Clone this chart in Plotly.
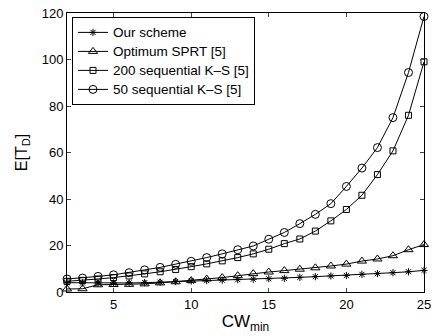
import plotly.graph_objects as go

cw = list(range(2, 26))
our_scheme = [4.0, 3.9, 3.8, 3.8, 3.9, 4.0, 4.2, 4.5, 4.7, 4.9, 5.1, 5.3, 5.5, 5.7, 5.9, 6.3, 6.6, 6.9, 7.1, 7.6, 7.9, 8.3, 8.7, 9.3]
optimum_sprt = [1.3, 1.4, 3.1, 3.2, 3.3, 3.5, 3.9, 4.4, 4.9, 5.6, 6.2, 7.0, 7.9, 8.6, 9.2, 9.8, 10.4, 11.2, 12.0, 13.3, 14.2, 15.6, 18.2, 20.4]
ks200 = [4.6, 5.0, 5.6, 6.2, 6.9, 7.8, 8.7, 9.7, 10.9, 12.1, 13.4, 14.8, 16.4, 18.4, 20.8, 22.8, 26.2, 30.6, 35.5, 41.6, 50.5, 60.7, 76.0, 99.0]
ks50 = [5.6, 6.0, 6.7, 7.4, 8.3, 9.5, 10.6, 11.9, 13.2, 14.8, 16.4, 18.2, 19.8, 22.7, 25.6, 29.4, 33.4, 38.0, 45.4, 53.3, 62.1, 75.0, 94.4, 118.5]

names = ["Our scheme", "Optimum SPRT [5]", "200 sequential K\u2013S [5]", "50 sequential K\u2013S [5]"]
series = [our_scheme, optimum_sprt, ks200, ks50]
symbols = ["asterisk-open", "triangle-up-open", "square-open", "circle-open"]
sizes = [6, 8, 6, 8]

fig = go.Figure()
for n, s, sym, sz in zip(names, series, symbols, sizes):
    fig.add_trace(go.Scatter(
        x=cw, y=s, name='<span style="font-size:13.5px">' + n + '</span>',
        mode="lines+markers",
        line=dict(color="black", width=1),
        marker=dict(symbol=sym, size=sz, color="black", line=dict(color="black", width=1)),
        cliponaxis=False,
    ))

fig.update_layout(
    width=437, height=336,
    margin=dict(l=67, r=6, t=12, b=44),
    paper_bgcolor="white", plot_bgcolor="white",
    font=dict(family="Liberation Sans, Arial, sans-serif", size=12, color="black"),
    showlegend=True,
    legend=dict(x=0.014, y=0.986, xanchor="left", yanchor="top",
                bordercolor="black", borderwidth=1, bgcolor="white",
                font=dict(size=11), tracegroupgap=0, itemwidth=30),
)
fig.update_xaxes(range=[2, 25.0001], tickvals=[5, 10, 15, 20, 25], ticks="inside", ticklen=4,
                 showline=True, linecolor="black", linewidth=1, mirror="ticks",
                 showgrid=False, zeroline=False, tickfont=dict(size=13),
                 ticklabeloverflow="allow",
                 title=dict(text="CW<sub>min</sub>", font=dict(size=17), standoff=4))
fig.update_yaxes(range=[0, 120], tickvals=[0, 20, 40, 60, 80, 100, 120], ticks="inside", ticklen=4,
                 showline=True, linecolor="black", linewidth=1, mirror="ticks",
                 showgrid=False, zeroline=False, tickfont=dict(size=13),
                 title=dict(text="E[T<sub>D</sub>]", font=dict(size=16), standoff=10))

fig.write_html("out.html")
